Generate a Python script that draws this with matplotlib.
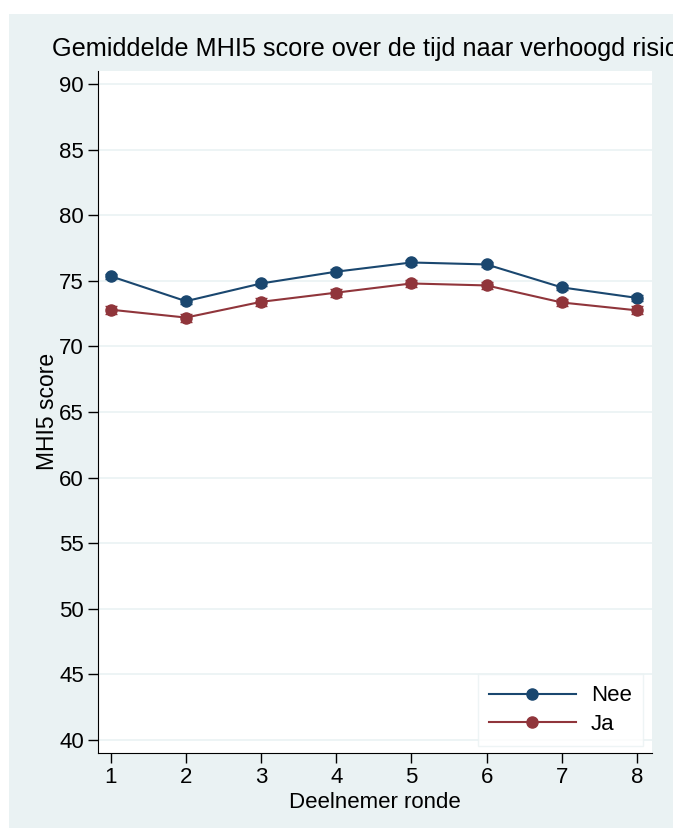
import matplotlib
matplotlib.use("Agg")
import matplotlib.pyplot as plt
from matplotlib.patches import Rectangle

plt.rcParams['font.family'] = ['Liberation Sans', 'DejaVu Sans']

# gegevens
rondes = [1, 2, 3, 4, 5, 6, 7, 8]
nee = [75.35, 73.45, 74.8, 75.7, 76.4, 76.25, 74.5, 73.7]
ja = [72.8, 72.2, 73.4, 74.1, 74.8, 74.65, 73.35, 72.75]
nee_ci = [0.2, 0.2, 0.2, 0.2, 0.2, 0.2, 0.2, 0.2]
ja_ci = [0.3, 0.3, 0.3, 0.3, 0.3, 0.3, 0.3, 0.3]
yticks = [40, 45, 50, 55, 60, 65, 70, 75, 80, 85, 90]

bg = '#eaf2f3'
kleur_nee = '#1a476f'
kleur_ja = '#90353b'

fig = plt.figure(figsize=(6.73, 8.32), dpi=100)
fig.patch.set_facecolor('white')
# achtergrond van de grafiek (stata stijl)
fig.add_artist(Rectangle((9/673, 1 - 828/832), 1, (828 - 14)/832,
                         transform=fig.transFigure, facecolor=bg,
                         edgecolor='none', zorder=0))

ax = fig.add_axes([98/673, 1 - 753/832, (652 - 98)/673, (753 - 71)/832])
ax.set_facecolor('white')

for yt in yticks:
    ax.axhline(yt, color=bg, lw=1.2, zorder=1)

ax.errorbar(rondes, nee, yerr=nee_ci, color=kleur_nee, lw=1.5, marker='o',
            ms=8, capsize=4, elinewidth=1.5, label='Nee', zorder=3)
ax.errorbar(rondes, ja, yerr=ja_ci, color=kleur_ja, lw=1.5, marker='o',
            ms=8, capsize=4.5, elinewidth=1.5, label='Ja', zorder=3)

ax.set_xlim(0.83, 8.2)
ax.set_ylim(39.0, 91.0)
ax.set_xticks(rondes)
ax.set_yticks(yticks)
ax.tick_params(labelsize=16, length=7, width=1, pad=3)
for s in ['top', 'right']:
    ax.spines[s].set_visible(False)

ax.set_xlabel('Deelnemer ronde', fontsize=16, labelpad=3)
fig.text(48/673, 1 - 411/832, 'MHI5 score', rotation=90, fontsize=16.5,
         ha='center', va='center')
fig.text(52/673, 1 - 49/832, 'Gemiddelde MHI5 score over de tijd naar verhoogd risico',
         fontsize=18.2, ha='left', va='center')

handles, labels = ax.get_legend_handles_labels()
handles = [h[0] for h in handles]
leg = ax.legend(handles, labels, loc='lower right', fontsize=16,
                frameon=True, fancybox=False, handlelength=3.9,
                borderpad=0.5, labelspacing=0.35, handletextpad=0.7,
                borderaxespad=0, bbox_to_anchor=(0.984, 0.01))
leg.get_frame().set_edgecolor(bg)
leg.get_frame().set_linewidth(1)

fig.savefig('out.png', dpi=100)
